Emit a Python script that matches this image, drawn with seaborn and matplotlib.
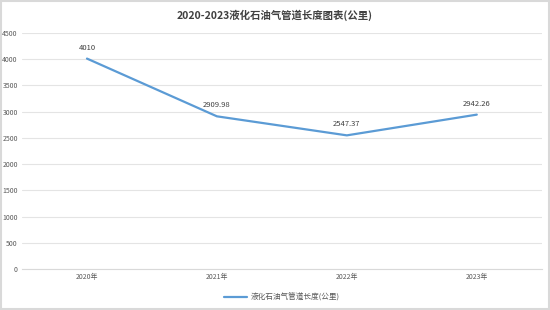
import matplotlib
matplotlib.use("Agg")
import matplotlib.pyplot as plt
import seaborn as sns
import pandas as pd

years = ["2020年", "2021年", "2022年", "2023年"]
lengths = [4010, 2909.98, 2547.37, 2942.26]
series_name = "液化石油气管道长度(公里)"
title = "2020-2023液化石油气管道长度图表(公里)"
yticks = [0, 500, 1000, 1500, 2000, 2500, 3000, 3500, 4000, 4500]

sns.set_theme(style="white")
plt.rcParams['font.family'] = ['Noto Sans CJK SC', 'DejaVu Sans']

df = pd.DataFrame({"year": years, "length": lengths, "pos": range(len(years))})

fig = plt.figure(figsize=(5.5, 3.1), dpi=100)
fig.patch.set_facecolor("white")
ax = fig.add_axes([0.04, 0.132, 0.945, 0.762])
color = "#5B9BD5"
sns.lineplot(data=df, x="pos", y="length", ax=ax, color=color, linewidth=1.6,
             label=series_name)
ax.set_xlim(-0.5, 3.5)
ax.set_ylim(0, 4500)
ax.set_yticks(yticks)
ax.set_yticklabels([str(v) for v in yticks], fontsize=5, color="#595959")
ax.set_xticks(range(len(years)))
ax.set_xticklabels(years, fontsize=5, color="#595959")
ax.tick_params(axis="both", length=0, pad=3)
ax.yaxis.grid(True, color="#E4E4E4", linewidth=0.8)
ax.set_axisbelow(True)
for s in ["top", "right", "left"]:
    ax.spines[s].set_visible(False)
ax.spines["bottom"].set_color("#D9D9D9")
ax.spines["bottom"].set_linewidth(0.8)
ax.set_xlabel("")
ax.set_ylabel("")

for p, v in zip(df["pos"], df["length"]):
    lbl = f"{v:g}"
    ax.annotate(lbl, (p, v), xytext=(0, 5), textcoords="offset points",
                ha="center", va="bottom", fontsize=5.5, color="#404040")

leg = ax.legend(loc="upper center", bbox_to_anchor=(0.5, -0.075), frameon=False,
                fontsize=5.5, handlelength=3, handletextpad=0.4)
for t in leg.get_texts():
    t.set_color("#595959")

fig.text(0.5, 0.952, title, ha="center", va="center", fontsize=7.5,
         fontweight="bold", color="#404040")

border = plt.Rectangle((0.002, 0.003), 0.996, 0.994, transform=fig.transFigure,
                       fill=False, edgecolor="#D9D9D9", linewidth=1.5)
fig.patches.append(border)

fig.savefig("out.png", dpi=100, facecolor="white")
